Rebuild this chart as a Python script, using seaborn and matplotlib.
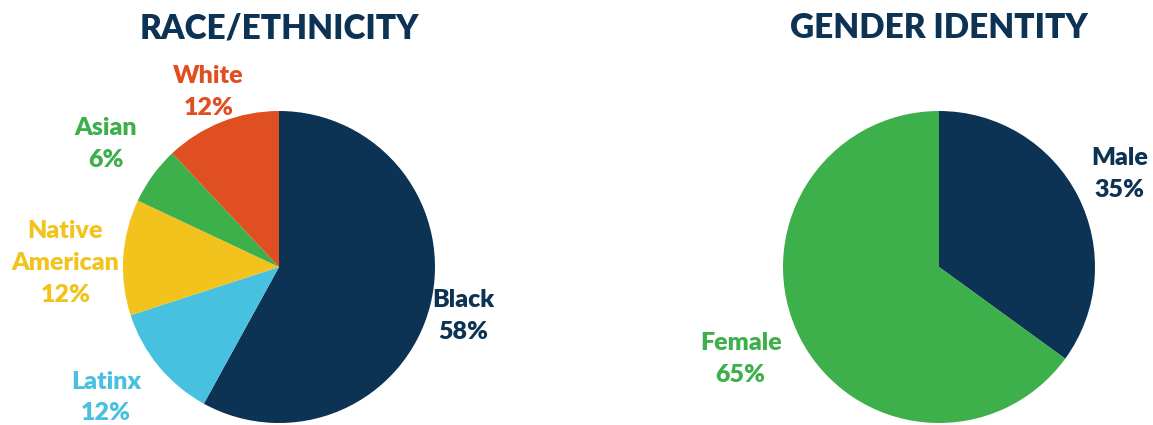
import numpy as np
import matplotlib
matplotlib.use("Agg")
import matplotlib.pyplot as plt
import seaborn as sns

# Survey composition data
race_labels = ["Black", "Latinx", "Native\nAmerican", "Asian", "White"]
race_values = [58, 12, 12, 6, 12]
gender_labels = ["Male", "Female"]
gender_values = [35, 65]

# Styling
NAVY = "#0c3254"
LIGHT_BLUE = "#48c1e0"
YELLOW = "#f1c31c"
GREEN = "#3daf4b"
ORANGE = "#e04f22"
race_colors = [NAVY, LIGHT_BLUE, YELLOW, GREEN, ORANGE]
gender_colors = [NAVY, GREEN]
# label placement: distance from pie centre (radii) and angular nudge (deg)
race_label_dist = [1.22, 1.39, 1.37, 1.36, 1.21]
race_label_turn = [-0.5, -2.6, 2.5, 0.6, 0.4]
gender_label_dist = [1.30, 1.40]
gender_label_turn = [0.2, -2.2]

sns.set_theme(style="white")
plt.rcParams["font.family"] = ["Lato", "DejaVu Sans"]

W, H = 1153, 425
fig = plt.figure(figsize=(W / 100, H / 100), dpi=100)
R = 156


def pie_axes(cx, cy):
    return fig.add_axes([(cx - R) / W, (H - cy - R) / H, 2 * R / W, 2 * R / H])


def draw_pie(ax, values, labels, colors, dists, turns, title):
    wedges, _ = ax.pie(values, colors=colors, startangle=90, counterclock=False,
                       radius=1.0, wedgeprops=dict(linewidth=0))
    for w, lab, col, v, d, t in zip(wedges, labels, colors, values, dists, turns):
        mid = np.deg2rad((w.theta1 + w.theta2) / 2 + t)
        ax.text(d * np.cos(mid), d * np.sin(mid), f"{lab}\n{v}%",
                ha="center", va="center", color=col, fontsize=18,
                fontweight="heavy", linespacing=1.55, clip_on=False)
    ax.set_xlim(-1, 1)
    ax.set_ylim(-1, 1)
    ax.set_aspect("equal")
    ax.axis("off")
    ax.text(0, 1 + 83 / R, title, ha="center", va="center", color=NAVY,
            fontsize=24, fontweight="heavy", clip_on=False)


ax1 = pie_axes(279, 267)
draw_pie(ax1, race_values, race_labels, race_colors, race_label_dist,
         race_label_turn, "RACE/ETHNICITY")
ax2 = pie_axes(939, 267)
draw_pie(ax2, gender_values, gender_labels, gender_colors, gender_label_dist,
         gender_label_turn, "GENDER IDENTITY")

fig.savefig("out.png", dpi=100, facecolor="white")
